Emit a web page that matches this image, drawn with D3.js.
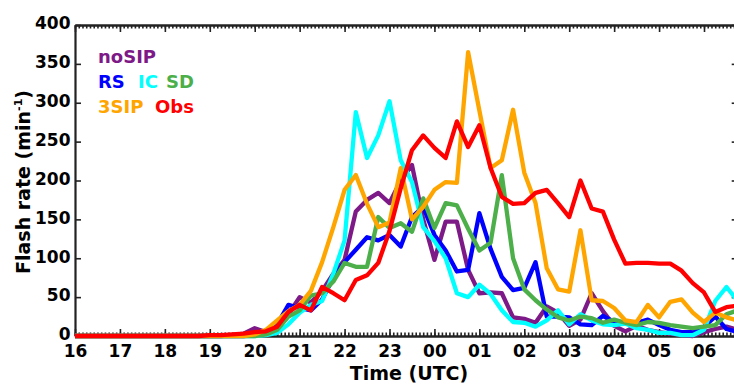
<!DOCTYPE html>
<html><head><meta charset="utf-8">
<script src="https://cdn.jsdelivr.net/npm/d3@7"></script>
<style>
body{margin:0;background:#fff}
svg{display:block}
text{font-family:"DejaVu Sans",sans-serif;font-weight:bold}
</style>
</head><body>
<svg id="c" width="734" height="384"></svg>
<script>
// time grid: hours after 16:00 UTC, 15-minute samples
const hours = [0,0.25,0.5,0.75,1,1.25,1.5,1.75,2,2.25,2.5,2.75,3,3.25,3.5,3.75,
  4,4.25,4.5,4.75,5,5.25,5.5,5.75,6,6.25,6.5,6.75,7,7.25,7.5,7.75,
  8,8.25,8.5,8.75,9,9.25,9.5,9.75,10,10.25,10.5,10.75,11,11.25,11.5,11.75,
  12,12.25,12.5,12.75,13,13.25,13.5,13.75,14,14.25,14.5,14.75];
const xTickLabels = ["16","17","18","19","20","21","22","23","00","01","02","03","04","05","06"];
const yTicks = [0,50,100,150,200,250,300,350,400];

const noSIP = [0,0,0,0,0,0,0,0,0,0,0,0,0,0,1,3,10,5,8,28,
  50,43,58,80,98,160,175,184,171,200,
  220,150,98,147,147,85,55,56,55,24,
  22,17,38,30,13,21,55,32,13,6,
  13,8,5,3,1,0,5,9,12,8];
const RS = [0,0,0,0,0,0,0,0,0,0,0,0,0,0,0,0,1,4,15,40,
  36,33,47,75,95,111,127,123,130,115,
  153,166,130,110,83,85,158,112,76,59,
  62,95,25,25,24,15,14,26,18,17,
  17,21,14,8,5,5,12,25,9,5];
const IC = [0,0,0,0,0,0,0,0,0,0,0,0,0,0,0,0,0,1,4,15,
  30,40,45,80,123,288,229,258,302,226,
  198,140,122,100,55,50,66,54,33,18,
  17,12,20,33,15,28,20,15,14,16,
  10,8,4,4,1,1,8,45,63,45];
const SD = [0,0,0,0,0,0,0,0,0,0,0,0,0,0,0,0,0,2,8,25,
  33,52,55,70,94,89,89,153,139,145,
  134,177,139,171,168,138,110,120,207,100,
  60,46,34,24,20,25,23,17,21,17,
  14,18,17,14,12,10,12,14,28,33];
const SIP3 = [0,0,0,0,0,0,0,0,0,0,0,0,0,0,0,0,2,8,20,32,
  40,58,95,140,188,207,170,140,146,216,
  150,166,188,198,197,365,290,216,226,291,
  210,171,87,60,57,136,46,45,36,20,
  18,40,24,44,47,30,18,30,24,20];
const Obs = [0,0,0,0,0,0,0,0,0,0,0,0,1,1,2,3,5,6,12,31,
  40,33,63,55,46,72,78,94,135,190,
  239,258,242,229,276,243,271,216,179,170,
  171,184,188,171,153,200,164,160,124,93,
  94,94,93,93,84,68,56,31,37,39];

const seriesNames = ["noSIP","RS","IC","SD","3SIP","Obs"];
const seriesValues = [noSIP, RS, IC, SD, SIP3, Obs];
const seriesColors = ["#7d1a87","#0000ff","#00ffff","#4caf4a","#ffa500","#ff0000"];

const svg = d3.select("#c");
const L = 75, R = 737.7, T = 25, B = 336;
const x = d3.scaleLinear().domain([0, 14.75]).range([L, R]);
const y = d3.scaleLinear().domain([0, 400]).range([B, T]);

svg.append("defs").append("clipPath").attr("id","clip")
  .append("rect").attr("x", L).attr("y", 0).attr("width", R - L).attr("height", B + 6);

const axisColor = "#222";
function styleAxis(sel){
  sel.selectAll("path.domain").attr("stroke", axisColor).attr("stroke-width", 2.2);
  sel.selectAll(".tick line").attr("stroke", axisColor).attr("stroke-width", 1.6);
  sel.selectAll("text").attr("fill","#000").attr("font-size", 17)
    .attr("font-family",'"DejaVu Sans",sans-serif').attr("font-weight","bold");
}
const minorX = d3.range(0, 14.75, 1/12);
const majorX = d3.range(0, 15, 1);

// bottom axis
svg.append("g").attr("transform",`translate(0,${B})`)
  .call(d3.axisBottom(x).tickValues(minorX).tickSizeInner(-3.5).tickSizeOuter(0).tickFormat(""))
  .call(styleAxis);
svg.append("g").attr("transform",`translate(0,${B})`)
  .call(d3.axisBottom(x).tickValues(majorX).tickSizeInner(-7).tickSizeOuter(0)
    .tickPadding(9).tickFormat((d,i) => xTickLabels[i]))
  .call(styleAxis);
// top axis
svg.append("g").attr("transform",`translate(0,${T})`)
  .call(d3.axisTop(x).tickValues(minorX).tickSizeInner(-3.5).tickSizeOuter(0).tickFormat(""))
  .call(styleAxis);
svg.append("g").attr("transform",`translate(0,${T})`)
  .call(d3.axisTop(x).tickValues(majorX).tickSizeInner(-7).tickSizeOuter(0).tickFormat(""))
  .call(styleAxis);
// left axis
const yl = svg.append("g").attr("transform",`translate(${L},0)`)
  .call(d3.axisLeft(y).tickValues(yTicks).tickSizeInner(-6).tickSizeOuter(0).tickPadding(4.5))
  .call(styleAxis);
yl.selectAll("text").attr("dy","0.22em");
// right axis
svg.append("g").attr("transform",`translate(${R},0)`)
  .call(d3.axisRight(y).tickValues(yTicks).tickSizeInner(-6).tickSizeOuter(0).tickFormat(""))
  .call(styleAxis);

// lines (drawn over the axes)
const line = d3.line().x((d,i) => x(hours[i])).y(d => y(d));
const g = svg.append("g").attr("clip-path","url(#clip)");
seriesValues.forEach((vals, k) => {
  g.append("path").datum(vals)
    .attr("d", line)
    .attr("fill","none")
    .attr("stroke", seriesColors[k])
    .attr("stroke-width", 4.3)
    .attr("stroke-linejoin","round")
    .attr("stroke-linecap","round");
});

// axis titles
svg.append("text").attr("x", 409).attr("y", 380).attr("text-anchor","middle")
  .attr("font-size", 19).attr("fill","#000").text("Time (UTC)");
const yt = svg.append("text").attr("transform","translate(30,182) rotate(-90)")
  .attr("text-anchor","middle").attr("font-size", 19).attr("fill","#000");
yt.append("tspan").text("Flash rate (min");
yt.append("tspan").attr("font-size", 11).attr("dy", -8).text("-1");
yt.append("tspan").attr("dy", 8).text(")");

// legend
const legend = [
  {name:"noSIP", x:98, y:63},
  {name:"RS", x:98, y:88},
  {name:"IC", x:138, y:88},
  {name:"SD", x:166, y:88},
  {name:"3SIP", x:98, y:113},
  {name:"Obs", x:155, y:113}
];
legend.forEach(l => {
  const k = seriesNames.indexOf(l.name);
  svg.append("text").attr("x", l.x).attr("y", l.y).attr("font-size", 18)
    .attr("fill", seriesColors[k]).text(l.name);
});
</script>
</body></html>
